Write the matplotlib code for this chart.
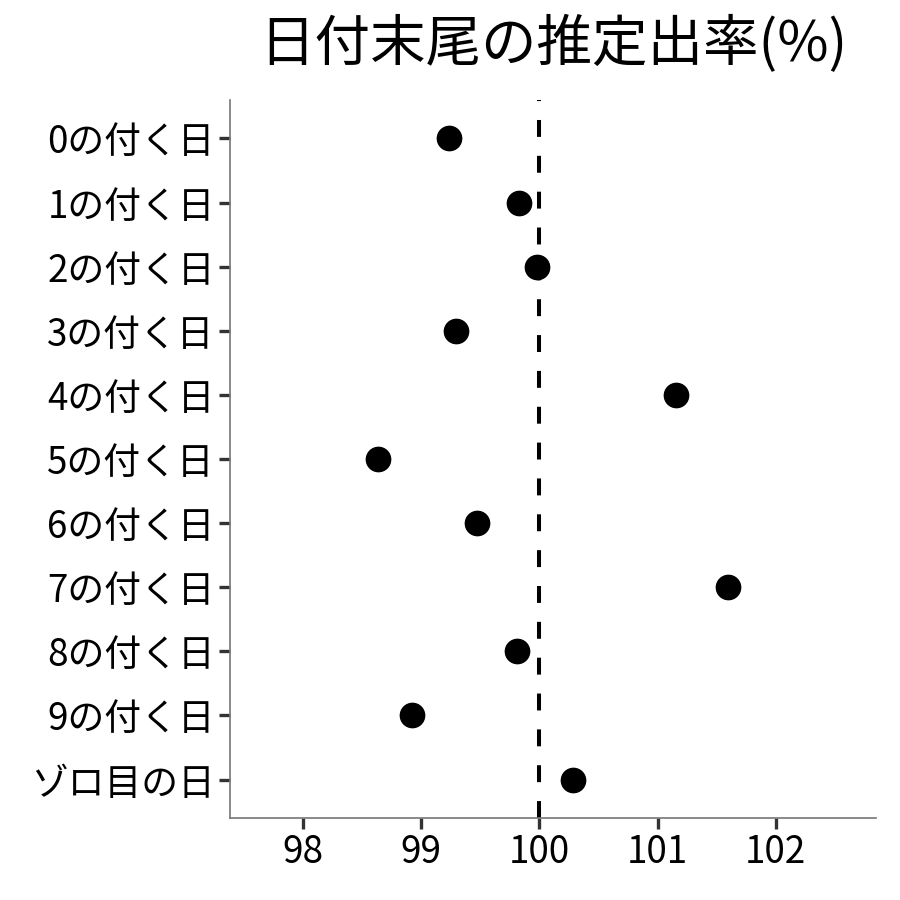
import matplotlib
matplotlib.use("Agg")
import matplotlib.pyplot as plt

plt.rcParams['font.family'] = ['Noto Sans CJK JP', 'DejaVu Sans']

labels = ["0の付く日", "1の付く日", "2の付く日", "3の付く日", "4の付く日", "5の付く日",
          "6の付く日", "7の付く日", "8の付く日", "9の付く日", "ゾロ目の日"]
rates = [99.23, 99.83, 99.98, 99.29, 101.16, 98.63, 99.47, 101.60, 99.81, 98.92, 100.28]
xticks = [98, 99, 100, 101, 102]

fig = plt.figure(figsize=(9, 9), dpi=100)
ax = fig.add_axes([0.2556, 0.0911, 0.7178, 0.7978])

ypos = list(range(len(labels)))[::-1]
ax.axvline(100, color='black', linestyle=(0, (4.2, 4.7)), linewidth=2.9, zorder=1)
ax.plot(rates, ypos, 'o', color='black', markersize=17.5, zorder=3)

ax.set_xlim(97.38, 102.85)
ax.set_ylim(-0.6, len(labels) - 1 + 0.6)
ax.set_yticks(ypos)
ax.set_yticklabels(labels)
ax.set_xticks(xticks)
ax.set_xticklabels([str(v) for v in xticks])

for s in ['top', 'right']:
    ax.spines[s].set_visible(False)
for s in ['left', 'bottom']:
    ax.spines[s].set_color('#777777')
    ax.spines[s].set_linewidth(1.2)
ax.tick_params(axis='both', colors='#333333', length=8, width=2.4, labelsize=26.5,
               labelcolor='black', pad=3)

ax.set_title("日付末尾の推定出率(%)", fontsize=40, pad=28)

fig.savefig("out.png", dpi=100)
